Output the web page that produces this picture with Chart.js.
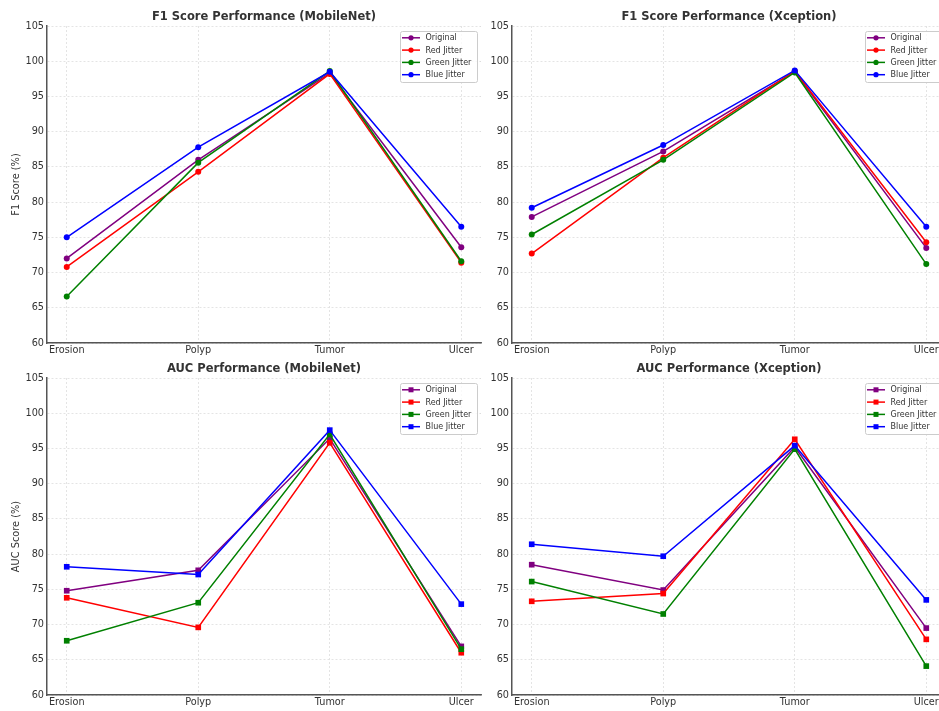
<!DOCTYPE html>
<html>
<head>
<meta charset="utf-8">
<script src="https://cdn.jsdelivr.net/npm/chart.js@4.4.1/dist/chart.umd.min.js"></script>
<style>
  html, body { margin: 0; padding: 0; background: #fff; overflow: hidden; }
  body { width: 939px; height: 711px; position: relative; }
  canvas { position: absolute; }
</style>
</head>
<body>
<canvas id="c1" width="500" height="360" style="left:0;top:0"></canvas>
<canvas id="c2" width="490" height="360" style="left:470px;top:0"></canvas>
<canvas id="c3" width="500" height="360" style="left:0;top:352px"></canvas>
<canvas id="c4" width="490" height="360" style="left:470px;top:352px"></canvas>
<script>
const categories = ['Erosion', 'Polyp', 'Tumor', 'Ulcer'];
const seriesNames = ['Original', 'Red Jitter', 'Green Jitter', 'Blue Jitter'];
const seriesColors = ['#800080', '#ff0000', '#008000', '#0000ff'];

// F1 score, MobileNet
const f1MobileOriginal = [72.0, 86.0, 98.3, 73.6];
const f1MobileRed = [70.8, 84.3, 98.2, 71.4];
const f1MobileGreen = [66.6, 85.6, 98.6, 71.6];
const f1MobileBlue = [75.0, 87.8, 98.5, 76.5];

// F1 score, Xception
const f1XceptionOriginal = [77.9, 87.2, 98.5, 73.5];
const f1XceptionRed = [72.7, 86.3, 98.6, 74.3];
const f1XceptionGreen = [75.4, 86.0, 98.4, 71.2];
const f1XceptionBlue = [79.2, 88.1, 98.7, 76.5];

// AUC, MobileNet
const aucMobileOriginal = [74.8, 77.7, 96.4, 66.9];
const aucMobileRed = [73.8, 69.6, 95.8, 66.0];
const aucMobileGreen = [67.7, 73.1, 97.0, 66.5];
const aucMobileBlue = [78.2, 77.1, 97.6, 72.9];

// AUC, Xception
const aucXceptionOriginal = [78.5, 74.9, 95.2, 69.5];
const aucXceptionRed = [73.3, 74.4, 96.3, 67.9];
const aucXceptionGreen = [76.1, 71.5, 94.9, 64.1];
const aucXceptionBlue = [81.4, 79.7, 95.4, 73.5];

const FONT = '"DejaVu Sans", Verdana, sans-serif';

// matplotlib style legend box in the upper right corner
const legendBox = {
    id: 'legendBox',
    afterDraw(chart) {
        const { ctx, chartArea } = chart;
        const w = 77, h = 51;
        const x0 = Math.round(chartArea.right - 4 - w), y0 = Math.round(chartArea.top + 5);
        ctx.save();
        ctx.fillStyle = 'rgba(255,255,255,0.8)';
        ctx.strokeStyle = '#cccccc';
        ctx.lineWidth = 1;
        ctx.beginPath();
        ctx.roundRect(x0 + 0.5, y0 + 0.5, w, h, 2);
        ctx.fill();
        ctx.stroke();
        ctx.font = '8px ' + FONT;
        ctx.textBaseline = 'middle';
        chart.data.datasets.forEach((ds, i) => {
            const y = y0 + 6.8 + i * 12.3;
            ctx.strokeStyle = ds.borderColor;
            ctx.fillStyle = ds.borderColor;
            ctx.lineWidth = 1.5;
            ctx.beginPath();
            ctx.moveTo(x0 + 2, y);
            ctx.lineTo(x0 + 20, y);
            ctx.stroke();
            if (ds.pointStyle === 'rect') {
                ctx.fillRect(x0 + 8.5, y - 2.5, 5, 5);
            } else {
                ctx.beginPath();
                ctx.arc(x0 + 11, y, 2.6, 0, Math.PI * 2);
                ctx.fill();
            }
            ctx.fillStyle = '#333';
            ctx.fillText(ds.label, x0 + 25.5, y + 0.5);
        });
        ctx.restore();
    }
};

function makePanel(id, title, yTitle, series, marker, yAxisWidth, padRight) {
    const datasets = series.map((vals, i) => ({
        label: seriesNames[i],
        data: vals.map((v, j) => ({ x: j, y: v })),
        borderColor: seriesColors[i],
        backgroundColor: seriesColors[i],
        borderWidth: 1.5,
        pointStyle: marker,
        pointRadius: marker === 'rect' ? 4 : 3,
        pointBorderWidth: 0,
        pointHoverRadius: marker === 'rect' ? 4 : 3,
        tension: 0,
        order: 3 - i
    }));

    new Chart(document.getElementById(id), {
        type: 'line',
        data: { datasets: datasets },
        plugins: [legendBox],
        options: {
            responsive: false,
            animation: false,
            devicePixelRatio: 1,
            layout: { padding: { left: 0, right: padRight, top: 0, bottom: 0 }, autoPadding: false },
            plugins: {
                legend: { display: false },
                tooltip: { enabled: false },
                title: {
                    display: true,
                    text: title,
                    fullSize: false,
                    color: '#333',
                    font: { family: FONT, size: 11.5, weight: 'bold', lineHeight: 1.2 },
                    padding: { top: 9.8, bottom: 2.4 }
                }
            },
            scales: {
                x: {
                    type: 'linear',
                    min: -0.15,
                    max: 3.15,
                    afterBuildTicks: (s) => { s.ticks = categories.map((c, i) => ({ value: i })); },
                    afterFit: (s) => { s.height = 17; },
                    ticks: {
                        callback: (v) => categories[v],
                        color: '#333',
                        font: { family: FONT, size: 9.7 },
                        padding: 2,
                        maxRotation: 0,
                        autoSkip: false
                    },
                    grid: { color: '#dddddd', lineWidth: 0.8, drawTicks: false },
                    border: { display: true, color: '#555', width: 1.5, dash: [2, 2] }
                },
                y: {
                    min: 60,
                    max: 105,
                    afterFit: (s) => { s.width = yAxisWidth; },
                    ticks: {
                        stepSize: 5,
                        color: '#333',
                        font: { family: FONT, size: 9.7 },
                        padding: 3
                    },
                    title: {
                        display: !!yTitle,
                        text: yTitle,
                        color: '#333',
                        font: { family: FONT, size: 9.8 },
                        padding: { top: 10.5, bottom: 0 }
                    },
                    grid: { color: '#dddddd', lineWidth: 0.8, drawTicks: false },
                    border: { display: true, color: '#555', width: 1.5, dash: [2, 2] }
                }
            }
        }
    });
}

makePanel('c1', 'F1 Score Performance (MobileNet)', 'F1 Score (%)',
    [f1MobileOriginal, f1MobileRed, f1MobileGreen, f1MobileBlue], 'circle', 47, 19);
makePanel('c2', 'F1 Score Performance (Xception)', '',
    [f1XceptionOriginal, f1XceptionRed, f1XceptionGreen, f1XceptionBlue], 'circle', 42, 14);
makePanel('c3', 'AUC Performance (MobileNet)', 'AUC Score (%)',
    [aucMobileOriginal, aucMobileRed, aucMobileGreen, aucMobileBlue], 'rect', 47, 19);
makePanel('c4', 'AUC Performance (Xception)', '',
    [aucXceptionOriginal, aucXceptionRed, aucXceptionGreen, aucXceptionBlue], 'rect', 42, 14);
</script>
</body>
</html>
